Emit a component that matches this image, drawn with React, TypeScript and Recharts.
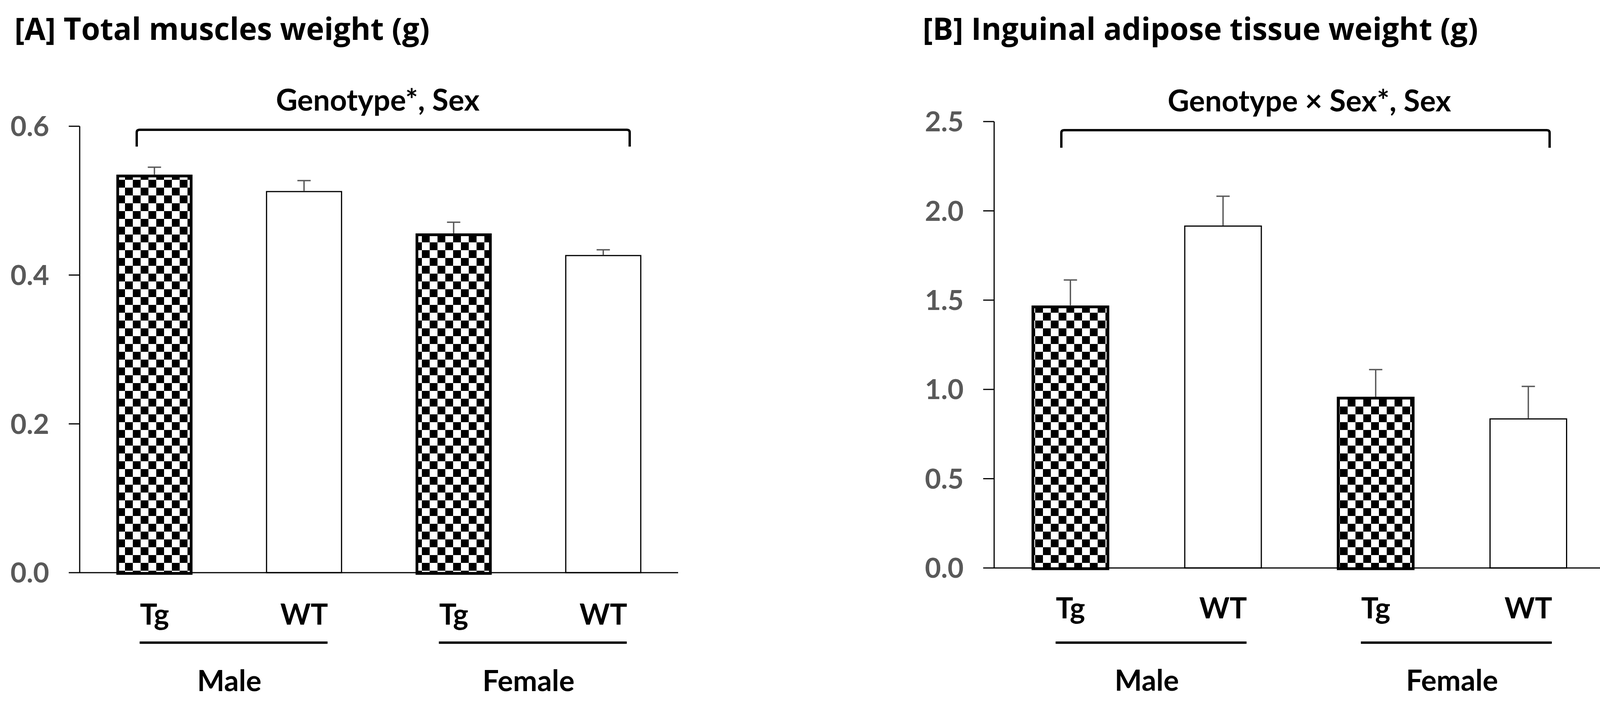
import React from "react";
import { BarChart, Bar, XAxis, YAxis } from "recharts";

// values (mean and upward SEM)
const genotypes = ["Tg", "WT", "Tg", "WT"];
const sexes = ["Male", "Male", "Female", "Female"];
const muscleMean = [0.535, 0.513, 0.456, 0.427];
const muscleSem = [0.01, 0.014, 0.015, 0.007];
const adiposeMean = [1.47, 1.918, 0.959, 0.838];
const adiposeSem = [0.143, 0.164, 0.152, 0.179];
const muscleTicks = [0, 0.2, 0.4, 0.6];
const adiposeTicks = [0, 0.5, 1.0, 1.5, 2.0, 2.5];

const FONT = "Lato, 'Open Sans', sans-serif";
const TITLE_FONT = "'Open Sans', Lato, sans-serif";
const GREY = "#595959";

const build = (mean: number[], sem: number[]) =>
  mean.map((m, i) => ({
    id: `${genotypes[i]}-${sexes[i]}`,
    geno: genotypes[i],
    sex: sexes[i],
    mean: m,
    sem: sem[i],
  }));

const muscleData = build(muscleMean, muscleSem);
const adiposeData = build(adiposeMean, adiposeSem);

function BarShape(props: any) {
  const { x, y, width, height, payload } = props;
  if (!height || height <= 0) return null;
  const cx = x + width / 2;
  const ppu = height / payload.mean;
  const errPx = payload.sem * ppu;
  const tg = payload.geno === "Tg";
  const sw = tg ? 7 : 3;
  return (
    <g>
      <rect
        x={x + sw / 2}
        y={y + sw / 2}
        width={width - sw}
        height={height - sw / 2 + (tg ? 2 : 0)}
        fill={tg ? `url(#${props.patternId})` : "#ffffff"}
        stroke="#000"
        strokeWidth={sw}
      />
      <line x1={cx} y1={y} x2={cx} y2={y - errPx} stroke={GREY} strokeWidth={3.5} />
      <line x1={cx - 17} y1={y - errPx} x2={cx + 17} y2={y - errPx} stroke={GREY} strokeWidth={3.5} />
    </g>
  );
}

type TickOffsets = { label: number; rule: number; group: number };

const makeTick = (band: number, off: TickOffsets) => (props: any) => {
  const { x, y, index } = props;
  const label = genotypes[index];
  return (
    <g>
      <text x={x} y={y + off.label} textAnchor="middle" fontFamily={FONT} fontWeight={700} fontSize={74} fill="#000">
        {label}
      </text>
      {index % 2 === 0 && (
        <g>
          <line x1={x - 38} y1={y + off.rule} x2={x + band + 60} y2={y + off.rule} stroke="#000" strokeWidth={6} />
          <text
            x={x + band / 2}
            y={y + off.group}
            textAnchor="middle"
            fontFamily={FONT}
            fontWeight={700}
            fontSize={74}
            fill="#000"
          >
            {sexes[index]}
          </text>
        </g>
      )}
    </g>
  );
};

type PanelProps = {
  data: any[];
  left: number;
  width: number;
  axisX: number;
  plotRight: number;
  top: number;
  zeroY: number;
  domainMax: number;
  ticks: number[];
  patternId: string;
  offsets: TickOffsets;
};

function Panel({ data, left, width, axisX, plotRight, top, zeroY, domainMax, ticks, patternId, offsets }: PanelProps) {
  const band = (plotRight - axisX) / data.length;
  return (
    <div style={{ position: "absolute", left, top: 0 }}>
      <BarChart
        width={width}
        height={1801}
        data={data}
        margin={{ top, right: left + width - plotRight, bottom: 0, left: 0 }}
        barCategoryGap="24.5%"
      >
        <defs>
          <pattern id={patternId} width={40} height={40} patternUnits="userSpaceOnUse">
            <rect x={0} y={0} width={40} height={40} fill="#fff" />
            <rect x={0} y={0} width={20} height={20} fill="#000" />
            <rect x={20} y={20} width={20} height={20} fill="#000" />
          </pattern>
        </defs>
        <XAxis
          dataKey="id"
          height={1801 - zeroY}
          interval={0}
          tickLine={false}
          tickSize={0}
          tickMargin={0}
          axisLine={{ stroke: "#000", strokeWidth: 3 }}
          tick={makeTick(band, offsets)}
        />
        <YAxis
          width={axisX - left}
          domain={[0, domainMax]}
          ticks={ticks}
          interval={0}
          tickSize={28}
          tickMargin={50}
          axisLine={{ stroke: "#000", strokeWidth: 3 }}
          tickLine={{ stroke: "#000", strokeWidth: 3 }}
          tick={{ fill: GREY, fontSize: 71, fontWeight: 700, fontFamily: FONT }}
          tickFormatter={(v: number) => v.toFixed(1)}
        />
        <Bar
          dataKey="mean"
          isAnimationActive={false}
          shape={(p: any) => <BarShape {...p} patternId={patternId} />}
        />
      </BarChart>
    </div>
  );
}

export default function App() {
  return (
    <div style={{ position: "absolute", left: 0, top: 0, width: 4139, height: 1801, background: "#fff", fontFamily: FONT }}>
      <Panel
        data={muscleData}
        left={0}
        width={2070}
        axisX={204}
        plotRight={1736}
        top={323}
        zeroY={1465}
        domainMax={0.6}
        ticks={muscleTicks}
        patternId="checkA"
        offsets={{ label: 133, rule: 179, group: 303 }}
      />
      <Panel
        data={adiposeData}
        left={2070}
        width={2069}
        axisX={2545}
        plotRight={4108}
        top={311}
        zeroY={1453}
        domainMax={2.5}
        ticks={adiposeTicks}
        patternId="checkB"
        offsets={{ label: 129, rule: 191, group: 314 }}
      />
      <svg
        width={4139}
        height={1801}
        style={{ position: "absolute", left: 0, top: 0, pointerEvents: "none" }}
      >
        <text x={37} y={102} fontFamily={TITLE_FONT} fontWeight={700} fontSize={78} fill="#000">
          [A] Total muscles weight (g)
        </text>
        <text x={2362} y={102} fontFamily={TITLE_FONT} fontWeight={700} fontSize={78} fill="#000">
          [B] Inguinal adipose tissue weight (g)
        </text>
        <text x={967} y={283} textAnchor="middle" fontFamily={FONT} fontWeight={700} fontSize={76} fill="#000">
          Genotype*, Sex
        </text>
        <text x={3352} y={285} textAnchor="middle" fontFamily={FONT} fontWeight={700} fontSize={76} fill="#000">
          Genotype × Sex*, Sex
        </text>
        <path
          d="M350,375 L350,339 Q350,332 357,332 L1605,332 Q1612,332 1612,339 L1612,375"
          fill="none"
          stroke="#000"
          strokeWidth={6}
        />
        <path
          d="M2717,378 L2717,340 Q2717,333 2724,333 L3960,333 Q3967,333 3967,340 L3967,378"
          fill="none"
          stroke="#000"
          strokeWidth={6}
        />
      </svg>
    </div>
  );
}
